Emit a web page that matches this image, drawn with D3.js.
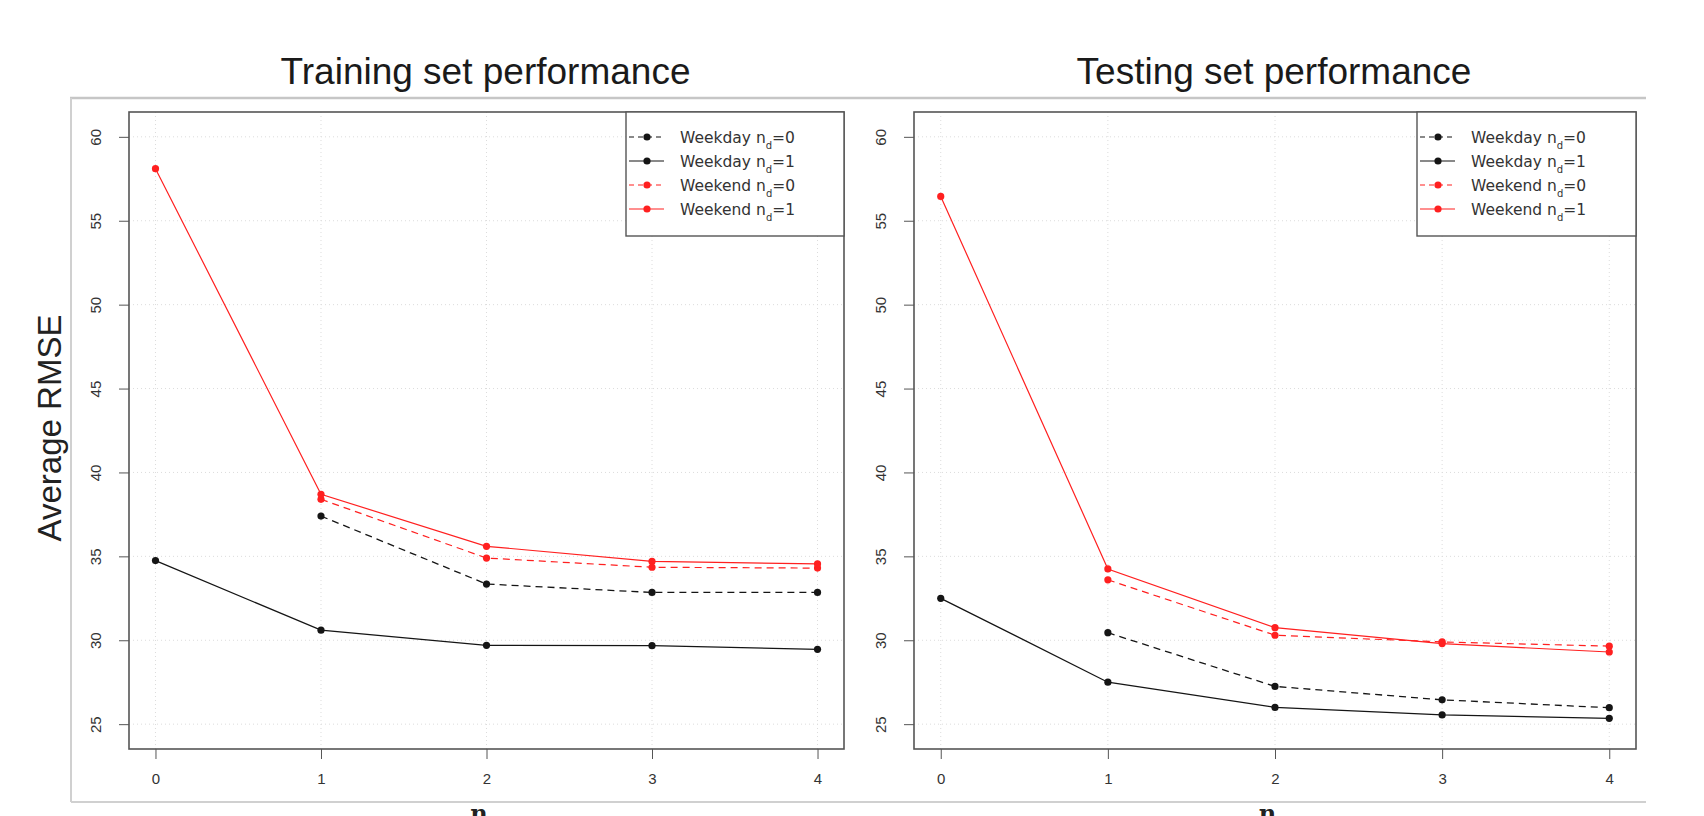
<!DOCTYPE html>
<html>
<head>
<meta charset="utf-8">
<script src="https://cdn.jsdelivr.net/npm/d3@7"></script>
<style>
body { margin: 0; background: #fff; }
svg { display: block; font-family: "Liberation Sans", Arial, sans-serif; }
</style>
</head>
<body>
<svg width="1704" height="816"></svg>
<script>
var xSteps = [0, 1, 2, 3, 4];
var yTicks = [25, 30, 35, 40, 45, 50, 55, 60];
var panelTitles = ["Training set performance", "Testing set performance"];
var legendDays = ["Weekday", "Weekday", "Weekend", "Weekend"];
var legendNd = [0, 1, 0, 1];

// average RMSE, training set (null = no value at that n)
var trainWeekday0 = [null, 37.4, 33.35, 32.85, 32.85];
var trainWeekday1 = [34.75, 30.6, 29.7, 29.68, 29.46];
var trainWeekend0 = [null, 38.4, 34.9, 34.35, 34.3];
var trainWeekend1 = [58.1, 38.7, 35.6, 34.7, 34.55];

// average RMSE, testing set
var testWeekday0 = [null, 30.45, 27.25, 26.45, 25.98];
var testWeekday1 = [32.5, 27.5, 26.0, 25.55, 25.35];
var testWeekend0 = [null, 33.6, 30.3, 29.9, 29.65];
var testWeekend1 = [56.45, 34.25, 30.75, 29.8, 29.3];

// series styles, same order as the legend
var seriesColors = ["#151515", "#151515", "#ff2020", "#ff2020"];
var seriesDash = ["7,5", null, "7,5", null];

var svg = d3.select("svg");
svg.append("rect").attr("width", 1704).attr("height", 816).attr("fill", "#fff");

// grey frame of the pasted figure
svg.append("line")
    .attr("x1", 70).attr("x2", 1646).attr("y1", 98).attr("y2", 98)
    .attr("stroke", "#c6c6c6").attr("stroke-width", 2.5);
svg.append("line")
    .attr("x1", 71).attr("x2", 71).attr("y1", 98).attr("y2", 802)
    .attr("stroke", "#d0d0d0").attr("stroke-width", 2);
svg.append("line")
    .attr("x1", 71).attr("x2", 1646).attr("y1", 802).attr("y2", 802)
    .attr("stroke", "#d0d0d0").attr("stroke-width", 2);

svg.append("text")
    .attr("transform", "translate(49,428) rotate(-90)")
    .attr("text-anchor", "middle")
    .attr("dominant-baseline", "central")
    .style("font-size", "33px")
    .attr("fill", "#222")
    .text("Average RMSE");

var panels = [
    {left: 129, right: 844, legendLeft: 626, series: [trainWeekday0, trainWeekday1, trainWeekend0, trainWeekend1]},
    {left: 914, right: 1636, legendLeft: 1417, series: [testWeekday0, testWeekday1, testWeekend0, testWeekend1]}
];
var plotTop = 112, plotBottom = 749;

panels.forEach(function (p, pi) {
    var x = d3.scaleLinear().domain([-0.16, 4.16]).range([p.left, p.right]);
    var y = d3.scaleLinear().domain([23.52, 61.48]).range([plotBottom, plotTop]);
    var cx = (p.left + p.right) / 2 - 4;

    svg.append("text")
        .attr("x", cx + 3).attr("y", 84)
        .attr("text-anchor", "middle")
        .style("font-size", "37px")
        .attr("fill", "#1a1a1a")
        .text(panelTitles[pi]);

    // dotted grid
    var grid = svg.append("g").attr("stroke", "#dcdcdc").attr("stroke-dasharray", "1,3");
    grid.selectAll(".gx").data(xSteps).enter().append("line")
        .attr("x1", function (d) {return x(d);}).attr("x2", function (d) {return x(d);})
        .attr("y1", plotTop).attr("y2", plotBottom);
    grid.selectAll(".gy").data(yTicks).enter().append("line")
        .attr("x1", p.left).attr("x2", p.right)
        .attr("y1", function (d) {return y(d);}).attr("y2", function (d) {return y(d);});

    // axes
    var ax = svg.append("g")
        .attr("transform", "translate(0," + plotBottom + ")")
        .call(d3.axisBottom(x).tickValues(xSteps).tickSize(10).tickPadding(14).tickFormat(d3.format("d")));
    ax.select(".domain").remove();
    ax.selectAll("text").style("font-size", "15px").attr("fill", "#333");
    ax.selectAll("line").attr("stroke", "#555");

    var ay = svg.append("g")
        .attr("transform", "translate(" + p.left + ",0)")
        .call(d3.axisLeft(y).tickValues(yTicks).tickSize(10).tickFormat(d3.format("d")));
    ay.select(".domain").remove();
    ay.selectAll("line").attr("stroke", "#555");
    ay.selectAll("text")
        .attr("transform", "rotate(-90)")
        .attr("x", 0).attr("y", -33).attr("dy", "0.36em")
        .attr("text-anchor", "middle")
        .style("font-size", "15px").attr("fill", "#333");

    svg.append("rect")
        .attr("x", p.left).attr("y", plotTop)
        .attr("width", p.right - p.left).attr("height", plotBottom - plotTop)
        .attr("fill", "none").attr("stroke", "#555").attr("stroke-width", 1.6);

    var line = d3.line()
        .defined(function (d) {return d != null;})
        .x(function (d, i) {return x(xSteps[i]);})
        .y(function (d) {return y(d);});

    p.series.forEach(function (vals, si) {
        svg.append("path")
            .datum(vals)
            .attr("d", line)
            .attr("fill", "none")
            .attr("stroke", seriesColors[si])
            .attr("stroke-width", si < 2 ? 1.3 : 1.2)
            .attr("stroke-dasharray", seriesDash[si]);
        svg.selectAll(".pt" + pi + si)
            .data(vals.map(function (v, i) {return {x: xSteps[i], v: v};}).filter(function (d) {return d.v != null;}))
            .enter().append("circle")
            .attr("cx", function (d) {return x(d.x);})
            .attr("cy", function (d) {return y(d.v);})
            .attr("r", 3.6)
            .attr("fill", seriesColors[si]);
    });

    // legend
    var lg = svg.append("g").attr("transform", "translate(" + p.legendLeft + "," + plotTop + ")");
    lg.append("rect")
        .attr("width", p.right - p.legendLeft).attr("height", 124)
        .attr("fill", "#fff").attr("stroke", "#555").attr("stroke-width", 1.4);
    legendDays.forEach(function (day, i) {
        var ly = 25 + i * 24;
        lg.append("line")
            .attr("x1", 3).attr("x2", 38).attr("y1", ly).attr("y2", ly)
            .attr("stroke", seriesColors[i]).attr("stroke-width", 1.2)
            .attr("stroke-dasharray", seriesDash[i] ? "5,4" : null);
        lg.append("circle").attr("cx", 21).attr("cy", ly).attr("r", 3.6).attr("fill", seriesColors[i]);
        var t = lg.append("text")
            .attr("x", 54).attr("y", ly + 5.5)
            .style("font-family", "'DejaVu Sans', sans-serif")
            .style("font-size", "15.5px")
            .attr("fill", "#333");
        t.append("tspan").text(day + " n");
        t.append("tspan").attr("baseline-shift", "sub").style("font-size", "10px").text("d");
        t.append("tspan").text("=" + legendNd[i]);
    });

    // x axis label, cut off by the bottom edge as in the source image
    var xl = svg.append("text")
        .attr("x", cx + 2).attr("y", 822)
        .attr("text-anchor", "middle")
        .style("font-family", "'DejaVu Serif', serif")
        .style("font-weight", "bold")
        .style("font-size", "24px")
        .attr("fill", "#222");
    xl.append("tspan").text("n");
    xl.append("tspan").attr("baseline-shift", "sub").style("font-size", "16px").text("d");
});
</script>
</body>
</html>
